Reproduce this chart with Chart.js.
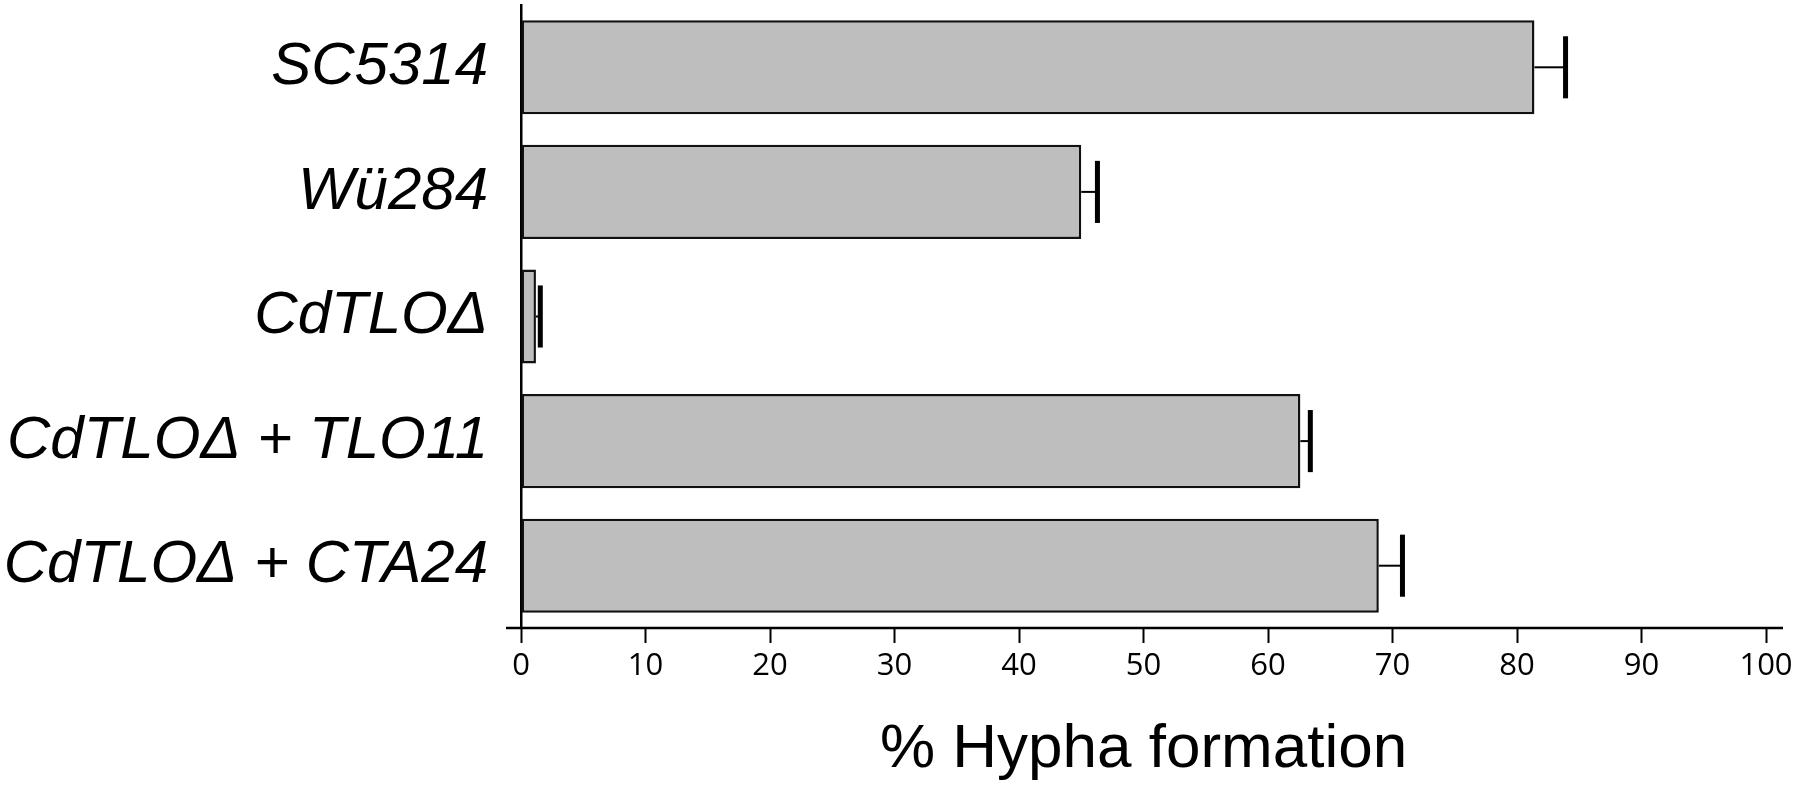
<!DOCTYPE html>
<html>
<head>
<meta charset="utf-8">
<script src="https://cdn.jsdelivr.net/npm/chart.js@4/dist/chart.umd.min.js"></script>
<style>
  html, body { margin: 0; padding: 0; background: #fff; }
  canvas { display: block; }
</style>
</head>
<body>
<canvas id="hypha-chart" width="1800" height="787"></canvas>
<script>
// strains and measured hypha formation (%)
const strains = ["SC5314", "Wü284", "CdTLOΔ", "CdTLOΔ + TLO11", "CdTLOΔ + CTA24"];
const hyphaPercent = [81.4, 45.0, 1.2, 62.6, 68.9];
const hyphaError = [2.5, 1.3, 0.35, 0.8, 1.9];
const xTicks = [0, 10, 20, 30, 40, 50, 60, 70, 80, 90, 100];

// error bars: thin stem from bar end, thick cap at value + error
const errorBars = {
  id: "errorBars",
  afterDatasetsDraw(chart) {
    const ctx = chart.ctx;
    const x = chart.scales.x;
    const meta = chart.getDatasetMeta(0);
    ctx.save();
    ctx.strokeStyle = "#000";
    meta.data.forEach((bar, i) => {
      const x0 = x.getPixelForValue(hyphaPercent[i]);
      const x1 = x.getPixelForValue(hyphaPercent[i] + hyphaError[i]);
      const half = bar.height * 0.33;
      ctx.lineWidth = 2;
      ctx.beginPath();
      ctx.moveTo(x0, bar.y);
      ctx.lineTo(x1, bar.y);
      ctx.stroke();
      ctx.lineWidth = 5;
      ctx.beginPath();
      ctx.moveTo(x1, bar.y - half);
      ctx.lineTo(x1, bar.y + half);
      ctx.stroke();
    });
    ctx.restore();
  }
};

// x axis line runs a little past both ends of the scale
const xAxisLine = {
  id: "xAxisLine",
  afterDraw(chart) {
    const ctx = chart.ctx;
    const area = chart.chartArea;
    ctx.save();
    ctx.strokeStyle = "#000";
    ctx.lineWidth = 2.5;
    ctx.beginPath();
    ctx.moveTo(area.left - 15, area.bottom);
    ctx.lineTo(area.right + 17, area.bottom);
    ctx.stroke();
    ctx.restore();
  }
};

const ctx = document.getElementById("hypha-chart").getContext("2d");
new Chart(ctx, {
  type: "bar",
  data: {
    labels: strains,
    datasets: [{
      data: hyphaPercent,
      backgroundColor: "rgb(190,190,190)",
      borderColor: "#111",
      borderWidth: 2.5,
      borderSkipped: false,
      barPercentage: 0.755,
      categoryPercentage: 1.0,
    }],
  },
  options: {
    indexAxis: "y",
    responsive: false,
    animation: false,
    devicePixelRatio: 1,
    layout: { padding: { top: 5, right: 34, left: 0, bottom: 0 } },
    plugins: {
      legend: { display: false },
      tooltip: { enabled: false },
    },
    scales: {
      x: {
        type: "linear",
        min: 0,
        max: 100,
        afterFit: (scale) => {
          scale.height = 159;
          scale.paddingLeft = 0;
          scale.paddingRight = 0;
        },
        afterBuildTicks: (scale) => { scale.ticks = xTicks.map(v => ({ value: v })); },
        border: { display: false },
        grid: {
          drawOnChartArea: false,
          drawTicks: true,
          tickLength: 15,
          tickWidth: 2,
          tickColor: "#000",
        },
        ticks: {
          color: "#000",
          padding: 5,
          maxRotation: 0,
          font: { family: "Open Sans", size: 31 },
        },
        title: {
          display: true,
          text: "% Hypha formation",
          color: "#000",
          padding: { top: 0, bottom: 0 },
          font: { family: "Liberation Sans", size: 62 },
        },
      },
      y: {
        afterFit: (scale) => {
          scale.width = 521;
          scale.paddingTop = 0;
          scale.paddingBottom = 0;
        },
        border: { display: true, color: "#000", width: 2.5 },
        grid: { display: false, drawTicks: false },
        ticks: {
          color: "#000",
          padding: 33,
          font: { family: "Liberation Sans", size: 60, style: "italic" },
        },
      },
    },
  },
  plugins: [errorBars, xAxisLine],
});
</script>
</body>
</html>
